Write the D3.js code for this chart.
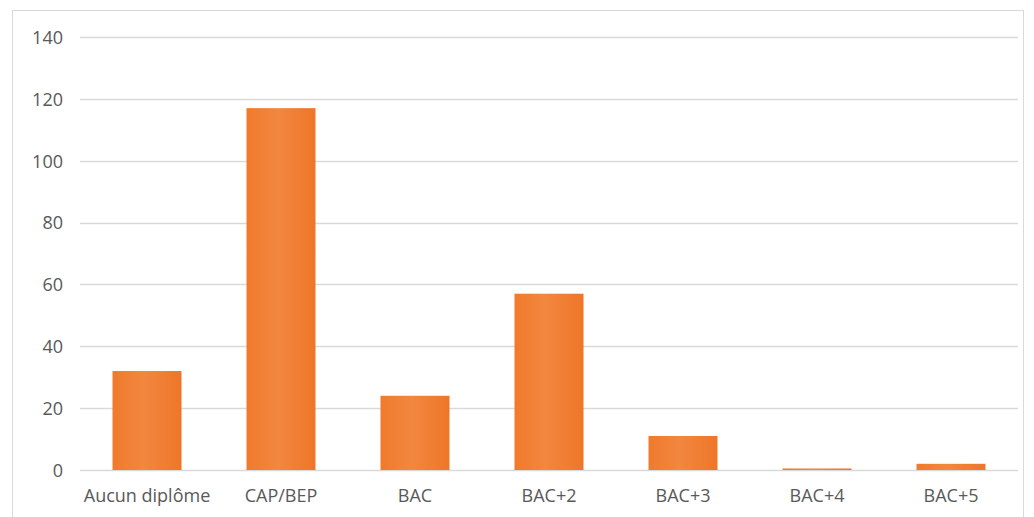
<!DOCTYPE html>
<html>
<head>
<meta charset="utf-8">
<script src="https://cdn.jsdelivr.net/npm/d3@7"></script>
<style>
  body { margin: 0; background: #fff; }
  text { font-family: "Open Sans", "Noto Sans", sans-serif; fill: #595959; }
</style>
</head>
<body>
<svg width="1034" height="517"></svg>
<script>
var categories = ["Aucun diplôme", "CAP/BEP", "BAC", "BAC+2", "BAC+3", "BAC+4", "BAC+5"];
var values = [32, 117, 24, 57, 11, 0.5, 2];
var yTicks = [0, 20, 40, 60, 80, 100, 120, 140];

var svg = d3.select("svg"),
    width = +svg.attr("width"),
    height = +svg.attr("height");

// chart frame
svg.append("rect")
  .attr("x", 12.5).attr("y", 10.5)
  .attr("width", 1011).attr("height", 520)
  .attr("fill", "#fff").attr("stroke", "#d9d9d9");

var x = d3.scaleBand().domain(categories).range([80, 1018]).paddingInner(0.485).paddingOuter(0.2425);
var y = d3.scaleLinear().domain([0, 140]).range([470, 37]);

var defs = svg.append("defs");
var grad = defs.append("linearGradient").attr("id", "barGrad").attr("x1", "0").attr("x2", "1");
grad.append("stop").attr("offset", "0%").attr("stop-color", "#F07A2C");
grad.append("stop").attr("offset", "45%").attr("stop-color", "#F2873F");
grad.append("stop").attr("offset", "100%").attr("stop-color", "#EE7629");

// grid
svg.append("g").selectAll("line")
  .data(yTicks)
  .enter().append("line")
  .attr("x1", 80).attr("x2", 1018)
  .attr("y1", function(d) { return Math.round(y(d)) + 0.5; })
  .attr("y2", function(d) { return Math.round(y(d)) + 0.5; })
  .attr("stroke", "#d9d9d9").attr("stroke-width", 1.5);

// y axis labels
var yAxis = svg.append("g").attr("transform", "translate(63,0)")
  .call(d3.axisLeft(y).tickValues(yTicks).tickSize(0).tickPadding(0));
yAxis.select(".domain").remove();
yAxis.selectAll("text").style("font-size", "18px").attr("font-family", null).attr("fill", "#595959").attr("dy", "0.35em");

// bars
svg.append("g").selectAll("rect")
  .data(values)
  .enter().append("rect")
  .attr("x", function(d, i) { return x(categories[i]); })
  .attr("width", x.bandwidth())
  .attr("y", function(d) { return y(d); })
  .attr("height", function(d) { return y(0) - y(d); })
  .attr("fill", "url(#barGrad)");

// x axis labels
var xAxis = svg.append("g").attr("transform", "translate(0,489)")
  .call(d3.axisBottom(x).tickSize(0).tickPadding(0));
xAxis.select(".domain").remove();
xAxis.selectAll("text").style("font-size", "18px").attr("font-family", null).attr("fill", "#595959");
</script>
</body>
</html>
